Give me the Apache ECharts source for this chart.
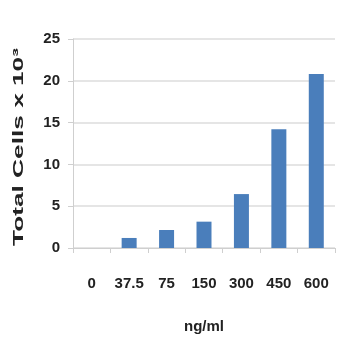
<!DOCTYPE html>
<html><head><meta charset="utf-8">
<script src="https://cdn.jsdelivr.net/npm/echarts@6/dist/echarts.min.js"></script>
<style>html,body{margin:0;padding:0;background:#fff}#c{width:358px;height:358px}</style>
</head><body><div id="c"></div>
<script>
const categories = ['0','37.5','75','150','300','450','600'];
const values = [0, 1.2, 2.15, 3.15, 6.45, 14.2, 20.8];
const yTicks = [0, 5, 10, 15, 20, 25];
const yTitle = 'Total Cells x 10³';
const xTitle = 'ng/ml';
const chart = echarts.init(document.getElementById('c'));
const font = 'Liberation Sans, Arial, sans-serif';
chart.setOption({
  animation: false,
  grid: {left: 73, right: 23, top: 39, bottom: 110},
  graphic: [{
    type: 'text', rotation: Math.PI / 2,
    x: 19, y: 147, scaleX: 1.75,
    style: {text: yTitle, font: 'bold 15px ' + font, fill: '#222', align: 'center', verticalAlign: 'middle'}
  }],
  xAxis: {
    type: 'category', data: categories,
    name: xTitle, nameLocation: 'middle', nameGap: 71,
    nameTextStyle: {fontFamily: font, fontWeight: 'bold', fontSize: 15, color: '#222'},
    axisLine: {lineStyle: {color: '#cfcfcf'}},
    axisTick: {show: true, length: 5, lineStyle: {color: '#cfcfcf'}},
    axisLabel: {interval: 0, fontFamily: font, fontWeight: 'bold', fontSize: 15, color: '#222', margin: 28}
  },
  yAxis: {
    type: 'value', min: 0, max: 25, interval: 5,
    axisLine: {show: true, lineStyle: {color: '#cfcfcf'}},
    axisTick: {show: true, length: 5, lineStyle: {color: '#cfcfcf'}},
    splitLine: {lineStyle: {color: '#dcdcdc', width: 1.5}},
    axisLabel: {fontFamily: font, fontWeight: 'bold', fontSize: 15, color: '#222', margin: 13,
      formatter: v => yTicks.includes(v) ? String(v) : ''}
  },
  series: [{
    type: 'bar', data: values, barWidth: 15,
    itemStyle: {color: '#4a7ebb'}
  }]
});
</script></body></html>
